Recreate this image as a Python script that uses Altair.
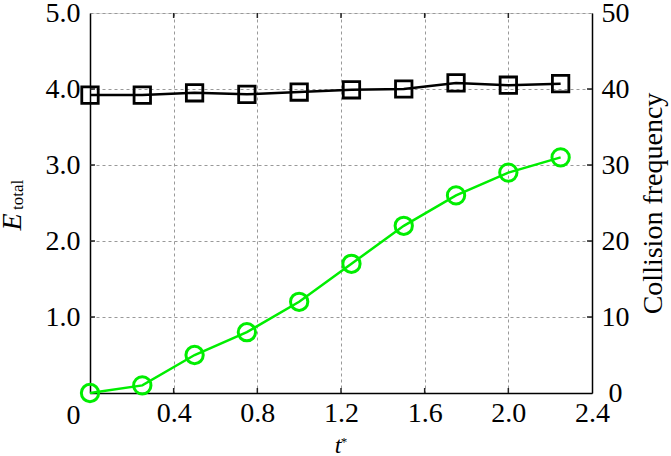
import altair as alt
import pandas as pd

# ---- data ----
t_star = [0.0, 0.25, 0.5, 0.75, 1.0, 1.25, 1.5, 1.75, 2.0, 2.25]
energy = [3.92, 3.92, 3.95, 3.93, 3.96, 3.99, 4.00, 4.08, 4.05, 4.07]
collisions = [0, 1, 5, 8, 12, 17, 22, 26, 29, 31]

x_ticks = [0.4, 0.8, 1.2, 1.6, 2.0, 2.4]
left_ticks = [0, 1, 2, 3, 4, 5]
right_ticks = [0, 10, 20, 30, 40, 50]

FONT = "Liberation Serif"
GREEN = "#00ee00"
TICK_FS = 28
W, H = 502, 380

df = pd.DataFrame({"t": t_star, "E": energy, "C": collisions})
xt_df = pd.DataFrame({"t": x_ticks[:-1]})
yl_df = pd.DataFrame({"E": left_ticks[1:-1]})
yr_df = pd.DataFrame({"C": right_ticks[1:-1]})

x_enc = alt.X(
    "t:Q",
    scale=alt.Scale(domain=[0, 2.4], nice=False, zero=False),
    axis=alt.Axis(
        values=x_ticks, format=".1f", title=None, grid=True,
        ticks=False, tickSize=0, labelPadding=6,
        gridDash=[3, 3], gridColor="#999999", gridWidth=1,
        domainColor="black", domainWidth=1.5,
        labelFont=FONT, labelFontSize=TICK_FS, labelColor="black",
        labelFlush=False,
    ),
)

y_left = alt.Y(
    "E:Q",
    scale=alt.Scale(domain=[0, 5], nice=False),
    axis=alt.Axis(
        orient="left", values=left_ticks, title=None,
        labelExpr="datum.value == 0 ? '0' : format(datum.value, '.1f')",
        grid=True, gridDash=[3, 3], gridColor="#999999", gridWidth=1,
        ticks=False, tickSize=0, labelPadding=10,
        domainColor="black", domainWidth=1.5,
        labelFont=FONT, labelFontSize=TICK_FS, labelColor="black",
        labelFlush=False,
        labelBaseline={"condition": {"test": "datum.value == 0", "value": "top"}, "value": "middle"},
        labelOffset={"condition": {"test": "datum.value == 0", "value": 8}, "value": 0},
    ),
)

y_right = alt.Y(
    "C:Q",
    scale=alt.Scale(domain=[0, 50], nice=False),
    axis=alt.Axis(
        orient="right", values=right_ticks, format="d",
        title="Collision frequency", titleAngle=270, titleBaseline="top",
        titleFont=FONT, titleFontSize=28, titleFontWeight="normal",
        titleColor="black", titlePadding=10,
        grid=False, ticks=False, tickSize=0, labelPadding=23,
        labelAlign="center",
        domainColor="black", domainWidth=1.5,
        labelFont=FONT, labelFontSize=TICK_FS, labelColor="black",
        labelFlush=False,
    ),
)

base = alt.Chart(df)
TICK_COLOR = "#222222"

e_layer = alt.layer(
    # inward tick marks (bottom / top on x, left on y)
    alt.Chart(xt_df).mark_rule(color=TICK_COLOR, strokeWidth=1.5).encode(
        x=x_enc, y=alt.value(H), y2=alt.value(H - 5)),
    alt.Chart(xt_df).mark_rule(color=TICK_COLOR, strokeWidth=1.5).encode(
        x=x_enc, y=alt.value(0), y2=alt.value(5)),
    alt.Chart(yl_df).mark_rule(color=TICK_COLOR, strokeWidth=1.5).encode(
        y=y_left, x=alt.value(0), x2=alt.value(5)),
    base.mark_line(color="black", strokeWidth=2.5).encode(x=x_enc, y=y_left),
    base.mark_point(shape="square", size=270, filled=False, color="black",
                    strokeWidth=2.8, opacity=1).encode(x=x_enc, y=y_left),
)

c_layer = alt.layer(
    alt.Chart(yr_df).mark_rule(color=TICK_COLOR, strokeWidth=1.5).encode(
        y=y_right, x=alt.value(W - 5), x2=alt.value(W)),
    base.mark_line(color=GREEN, strokeWidth=2.5).encode(x=x_enc, y=y_right),
    base.mark_point(shape="circle", size=300, filled=False, color=GREEN,
                    strokeWidth=3, opacity=1).encode(x=x_enc, y=y_right),
)

lab = pd.DataFrame({"k": [0]})
def label(txt, x, y, size, angle=0, style="normal", baseline="alphabetic", align="center"):
    return alt.Chart(lab).mark_text(
        text=txt, font=FONT, fontSize=size, fontStyle=style, color="black",
        angle=angle, baseline=baseline, align=align,
    ).encode(x=alt.value(x), y=alt.value(y))

titles = alt.layer(
    label("E", -69, 209, 28, angle=270, style="italic"),
    label("total", -67, 197, 17, angle=270, align="left"),
    label("t", 248, 440, 24, style="italic"),
    label("*", 254, 433, 13),
)

data_layers = alt.layer(e_layer, c_layer).resolve_scale(y="independent")

chart = alt.layer(data_layers, titles).properties(
    width=W, height=H,
    autosize=alt.AutoSizeParams(type="none"),
    padding={"left": 90, "top": 13, "right": 79, "bottom": 63},
).configure_view(stroke="black", strokeWidth=1.5).configure(background="white")

chart.save("out.html", embed_options={"renderer": "svg", "actions": False})
